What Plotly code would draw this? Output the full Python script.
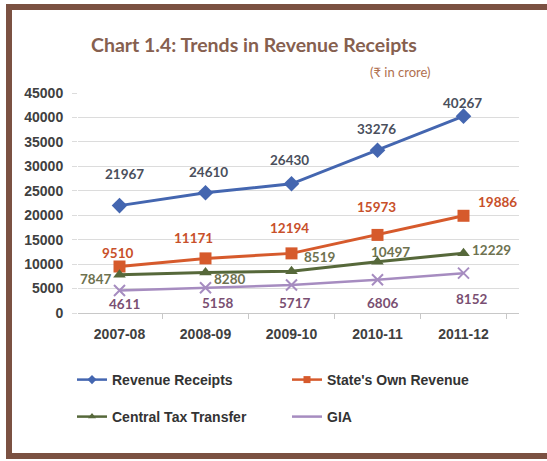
import plotly.graph_objects as go

categories = ["2007-08", "2008-09", "2009-10", "2010-11", "2011-12"]
revenue_receipts = [21967, 24610, 26430, 33276, 40267]
states_own_revenue = [9510, 11171, 12194, 15973, 19886]
central_tax_transfer = [7847, 8280, 8519, 10497, 12229]
gia = [4611, 5158, 5717, 6806, 8152]
y_ticks = [0, 5000, 10000, 15000, 20000, 25000, 30000, 35000, 40000, 45000]

# plot area in pixels
W, H = 547, 461
L, R, T, B = 78, 28, 93, 148
PW, PH = W - L - R, H - T - B


def px(x):
    return (x - L) / PW


def py(y):
    return (H - B - y) / PH


series = [
    dict(name="Revenue Receipts", y=revenue_receipts, color="#4466b0", width=3,
         symbol="diamond", msize=12, lab="#4a4f5c", legend="legend",
         off=[(5, -32), (3, -21), (-2, -24), (-1, -21), (-1, -13)]),
    dict(name="State's Own Revenue", y=states_own_revenue, color="#d65a2c", width=3,
         symbol="square", msize=12, lab="#c8502a", legend="legend",
         off=[(-2, -14), (-12, -20), (-2, -25), (-1, -28), (34, -14)]),
    dict(name="Central Tax Transfer", y=central_tax_transfer, color="#56683a", width=3,
         symbol="triangle-up", msize=11, lab="#6e7250", legend="legend2",
         off=[(-24, 4), (24, 6), (28, -14), (13, -10), (28, -3)]),
    dict(name="GIA", y=gia, color="#a68cc0", width=2.5,
         symbol="x-thin", msize=11, lab="#7a4f72", legend="legend2",
         off=[(5, 14), (12, 15), (3, 18), (5, 23), (8, 26)]),
]

fig = go.Figure()
annotations = []
for s in series:
    mline = dict(color=s["color"], width=2 if s["symbol"] == "x-thin" else 0)
    fig.add_trace(go.Scatter(
        x=categories, y=s["y"], name=s["name"], mode="lines+markers",
        line=dict(color=s["color"], width=s["width"]),
        marker=dict(symbol=s["symbol"], size=s["msize"], color=s["color"], line=mline),
        showlegend=False,
    ))
    # legend entry with smaller marker, as in the reference legend
    fig.add_trace(go.Scatter(
        x=[None], y=[None], name=s["name"], mode="lines" if s["symbol"] == "x-thin" else "lines+markers",
        line=dict(color=s["color"], width=2.5),
        marker=dict(symbol=s["symbol"], size=7, color=s["color"], line=dict(width=0)),
        legend=s["legend"], showlegend=True,
    ))
    for c, v, (dx, dy) in zip(categories, s["y"], s["off"]):
        annotations.append(dict(
            x=c, y=v, xref="x", yref="y", text=str(v), showarrow=False,
            xshift=dx, yshift=-dy,
            font=dict(family="Lato", size=13.5, color=s["lab"], weight="bold"),
        ))

annotations.append(dict(
    x=px(254), y=py(45), xref="paper", yref="paper", showarrow=False,
    text="Chart 1.4: Trends in Revenue Receipts",
    font=dict(family="Lato", size=19.5, color="#86604f", weight="bold"),
    xanchor="center", yanchor="middle",
))
annotations.append(dict(
    x=px(400), y=py(72), xref="paper", yref="paper", showarrow=False,
    text="(₹ in crore)",
    font=dict(family="Lato", size=13, color="#b07050"),
    xanchor="center", yanchor="middle",
))

legend_font = dict(family="Liberation Sans", size=14, color="#333333", weight="bold")

fig.update_layout(
    width=W, height=H,
    margin=dict(l=L, r=R, t=T, b=B),
    paper_bgcolor="white", plot_bgcolor="white",
    showlegend=True,
    annotations=annotations,
    shapes=[dict(type="rect", xref="paper", yref="paper",
                 x0=px(9), x1=px(570), y0=py(456), y1=py(7),
                 line=dict(color="#7b5142", width=6), layer="above")],
    legend=dict(orientation="h", x=px(72), xanchor="left", y=py(380), yanchor="middle",
                entrywidth=170, entrywidthmode="pixels", font=legend_font,
                bgcolor="rgba(0,0,0,0)"),
    legend2=dict(orientation="h", x=px(72), xanchor="left", y=py(417), yanchor="middle",
                 entrywidth=170, entrywidthmode="pixels", font=legend_font,
                 bgcolor="rgba(0,0,0,0)"),
    xaxis=dict(
        type="category", showgrid=False, showline=True, linecolor="#c8c8c8", linewidth=1,
        ticks="outside", tickson="boundaries", ticklen=5, tickcolor="#c8c8c8",
        tickfont=dict(family="Liberation Sans", size=14, color="#404040", weight="bold"),
        ticklabelstandoff=8, fixedrange=True,
    ),
    yaxis=dict(
        range=[0, 45000], tickvals=y_ticks, ticktext=[str(t) for t in y_ticks],
        showgrid=True, gridcolor="#dcdcdc", gridwidth=1,
        zeroline=False, showline=False, ticks="outside", ticklen=5, tickcolor="#dcdcdc",
        tickfont=dict(family="Liberation Sans", size=14, color="#404040", weight="bold"),
        ticklabelstandoff=6, fixedrange=True,
    ),
)

fig.write_html("out.html", config={"displayModeBar": False},
               post_script="document.body.style.margin='0';")
